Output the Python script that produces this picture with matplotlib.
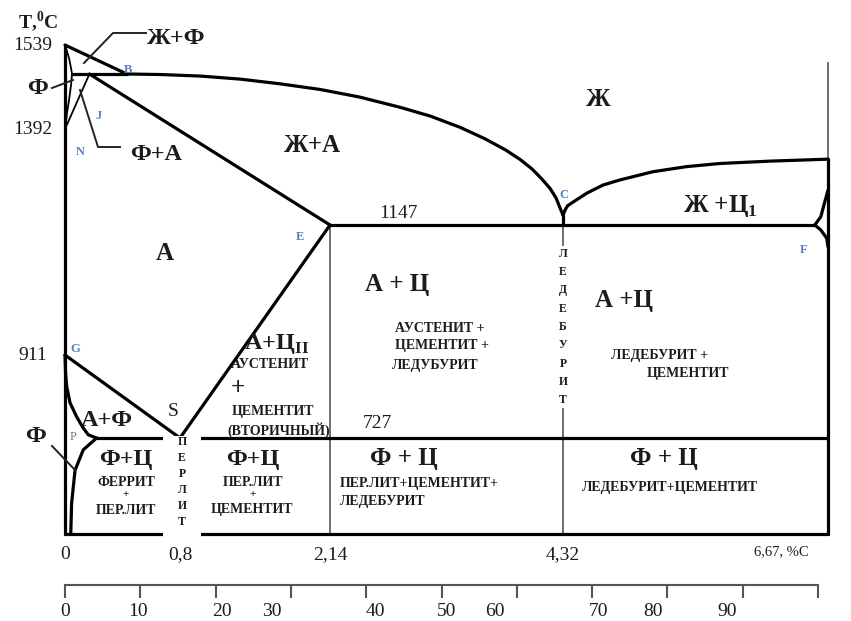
import numpy as np
import matplotlib
matplotlib.use("Agg")
import matplotlib.pyplot as plt
import matplotlib.transforms as mtransforms
from matplotlib.patches import Rectangle

# ------------------------------------------------------------------ data
# key temperatures (deg C)
T_A, T_HJB, T_N, T_ECF, T_G, T_PSK, T_BOTTOM = 1539, 1499, 1392, 1147, 911, 727, 500
T_CUSP = 1172        # cusp of the liquidus at point C
T_D = 1315           # liquidus at 6.67 %C
T_RIGHT_TOP = 1514   # top of the 6.67 %C line
# key carbon contents (% C), as drawn in the schematic
C_H, C_J, C_B, C_P, C_S, C_E, C_C, C_F, C_F_IN = 0.05, 0.17, 0.43, 0.22, 0.8, 2.14, 4.32, 6.67, 6.553

# liquidus B-C
liq_bc_c = [0.43, 0.66, 0.98, 1.34, 1.69, 2.05, 2.42, 2.80, 3.08, 3.36, 3.59, 3.78,
            3.92, 4.03, 4.12, 4.20, 4.255, 4.29, 4.32]
liq_bc_t = [1499, 1498, 1495, 1489, 1480, 1469, 1454, 1434, 1417, 1395, 1367, 1339,
            1314, 1290, 1265, 1240, 1216, 1192, 1172]
# liquidus C-D
liq_cd_c = [4.32, 4.338, 4.36, 4.412, 4.530, 4.675, 4.825, 5.118, 5.417, 5.712, 6.156, 6.67]
liq_cd_t = [1172, 1185, 1196, 1206, 1228, 1249, 1262, 1283, 1296, 1304, 1310, 1315]
# delta-ferrite boundary A-H-N
ahn_c = [0.0, 0.028, 0.042, 0.049, 0.042, 0.028, 0.014, 0.0]
ahn_t = [1539, 1521, 1507, 1499, 1478, 1448, 1423, 1392]
# G-P
gp_c = [0.0, 0.004, 0.012, 0.035, 0.081, 0.125, 0.162, 0.22]
gp_t = [911, 870, 841, 805, 774, 750, 734, 727]
# P-Q
pq_c = [0.22, 0.127, 0.07, 0.046, 0.04]
pq_t = [727, 699, 651, 573, 500]
# cementite boundary near F
f_up_c = [6.67, 6.634, 6.606, 6.553]
f_up_t = [1236, 1198, 1168, 1147]
f_lo_c = [6.553, 6.606, 6.659, 6.67]
f_lo_t = [1147, 1138, 1123, 1107]

# axis labels
comp_ticks = [0, 0.8, 2.14, 4.32]
comp_labels = ["0", "0,8", "2,14", "4,32"]
temp_ticks = [1539, 1392, 911]
temp_labels = ["1539", "1392", "911"]
ruler_ticks = [0, 10, 20, 30, 40, 50, 60, 70, 80, 90, 100]
ruler_label_pos = [0, 9.7, 20.8, 27.5, 41.2, 50.7, 57.1, 70.8, 78.1, 87.9]
ruler_labels = ["0", "10", "20", "30", "40", "50", "60", "70", "80", "90"]

# ------------------------------------------------------- schematic scales
X_C = [-1.0, 0.0, 0.8, 2.14, 4.32, 6.67, 8.0]
X_P = [-78.75, 65, 180, 330, 563, 828, 978]
Y_T = [0, 727, 911, 1147, 1392, 1499, 1539, 1700]
Y_P = [621 - 745.5, 621 - 438, 621 - 355, 621 - 225, 621 - 129, 621 - 74, 621 - 45, 621 + 72]


def fx(c):
    return np.interp(c, X_C, X_P)


def fx_inv(p):
    return np.interp(p, X_P, X_C)


def fy(t):
    return np.interp(t, Y_T, Y_P)


def fy_inv(p):
    return np.interp(p, Y_P, Y_T)


W, H = 851, 621
plt.rcParams["font.family"] = ["Liberation Serif", "DejaVu Serif"]
plt.rcParams["mathtext.fontset"] = "custom"
plt.rcParams["mathtext.rm"] = "Liberation Serif"

fig = plt.figure(figsize=(W / 100, H / 100), dpi=100)
ax = fig.add_axes([0, 0, 1, 1])
ax.set_xscale("function", functions=(fx, fx_inv))
ax.set_yscale("function", functions=(fy, fy_inv))
ax.set_xlim(fx_inv(0), fx_inv(W))
ax.set_ylim(fy_inv(0), fy_inv(H))
ax.axis("off")

tpx = mtransforms.Affine2D().scale(1 / W, -1 / H).translate(0, 1) + fig.transFigure

K = dict(color="black", lw=2.3, solid_capstyle="round", solid_joinstyle="round", zorder=2)
THIN = dict(color="black", lw=1.3, zorder=2)
GRAY = dict(color="#6e6e6e", lw=1.4, zorder=1.5)

ax.plot([0, 0], [T_BOTTOM, T_A], **K)
ax.plot([0, C_B], [T_A, T_HJB], **K)
ax.plot([C_H, C_B], [T_HJB, T_HJB], **K)
ax.plot(liq_bc_c, liq_bc_t, **K)
ax.plot(liq_cd_c, liq_cd_t, **K)
ax.plot([C_J, C_E], [T_HJB, T_ECF], **K)
ax.plot([0, C_J], [T_N, T_HJB], **THIN)
ax.plot(ahn_c, ahn_t, **THIN)
ax.plot([C_E, C_F_IN], [T_ECF, T_ECF], **K)
ax.plot(f_up_c, f_up_t, **K)
ax.plot(f_lo_c, f_lo_t, **K)
ax.plot([C_F, C_F], [T_BOTTOM, T_D], **K)
ax.plot([C_F, C_F], [T_D, T_RIGHT_TOP], **GRAY)
ax.plot([0, C_S], [T_G, T_PSK], **K)
ax.plot(gp_c, gp_t, **K)
ax.plot([C_P, C_F], [T_PSK, T_PSK], **K)
ax.plot([C_S, C_E], [T_PSK, T_ECF], **K)
ax.plot(pq_c, pq_t, **K)
ax.plot([0, C_F], [T_BOTTOM, T_BOTTOM], **K)
ax.plot([C_E, C_E], [T_BOTTOM, T_ECF], **GRAY)
ax.plot([C_C, C_C], [T_BOTTOM, T_ECF], **GRAY)
ax.plot([C_C, C_C], [T_ECF, T_CUSP], **K)

# white gap for the vertical word "ПЕРЛИТ"
ax.add_patch(Rectangle((163, 436), 38, 102, transform=tpx, facecolor="white",
                       edgecolor="none", zorder=3))

TXT = "#1c1c1c"
BLUE = "#5a7dbf"


def lbl(x, y, s, size, bold=True, ha="center", va="center", color=TXT, z=5, **kw):
    return ax.text(x, y, s, transform=tpx, fontsize=size,
                   fontweight="bold" if bold else "normal",
                   ha=ha, va=va, color=color, zorder=z, **kw)


# leader lines
LL = dict(transform=tpx, color="#222222", lw=1.4, zorder=4)
ax.plot([146, 113, 84], [33, 33, 63], **LL)
ax.plot([52, 73], [88, 80], **LL)
ax.plot([80, 98, 120], [90, 147, 147], **LL)
ax.plot([52, 75], [446, 470], **LL)

NUM = 14
# axis-style labels
lbl(38, 22, "Т,$^\\mathregular{0}$С", 14)
for t, s in zip(temp_ticks, temp_labels):
    ax.text(0.039, t, s, transform=ax.get_yaxis_transform(), fontsize=NUM,
            ha="center", va="center", color=TXT)
for c, s in zip(comp_ticks, comp_labels):
    ax.text(c, 0.107, s, transform=ax.get_xaxis_transform(), fontsize=NUM,
            ha="center", va="center", color=TXT)
lbl(781, 552, "6,67, %С", 10.5, bold=False)
ax.annotate("1147", (2.78, T_ECF), xytext=(0, 2.5), textcoords="offset points",
            ha="center", va="bottom", fontsize=NUM, color=TXT)
ax.annotate("727", (2.58, T_PSK), xytext=(0, 4.5), textcoords="offset points",
            ha="center", va="bottom", fontsize=NUM, color=TXT)

# blue point letters
for x, y, s in [(128, 70, "B"), (99, 116, "J"), (80, 152, "N"), (300, 237, "E"),
                (564, 195, "C"), (804, 250, "F"), (75, 349, "G")]:
    lbl(x, y, s, 9, color=BLUE)
lbl(73, 437, "P", 9, bold=False, color="#777777")

# region labels
BIG = 18
MID = 17.5
SM = 10
lbl(598, 100, "Ж", BIG)
lbl(312, 146, "Ж+А", BIG)
lbl(147, 38, "Ж+Ф", MID, ha="left")
lbl(37, 89, "Ф", MID)
lbl(156, 154, "Ф+А", MID)
lbl(165, 254, "А", BIG)
lbl(720, 206, "Ж +Ц$_\\mathregular{1}$", BIG)
lbl(397, 285, "А + Ц", BIG)
lbl(624, 300, "А +Ц", BIG)
lbl(440, 328, "АУСТЕНИТ +", SM)
lbl(442, 346, "ЦЕМЕНТИТ +", SM)
lbl(435, 365, "ЛЕДУБУРИТ", SM)
lbl(660, 355, "ЛЕДЕБУРИТ +", SM)
lbl(688, 373, "ЦЕМЕНТИТ", SM)
lbl(277, 344, "А+Ц$_\\mathregular{II}$", MID)
lbl(270, 364, "АУСТЕНИТ", SM, z=1)
lbl(238, 388, "+", 18)
lbl(273, 412, "ЦЕМЕНТИТ", SM)
lbl(279, 430, "(ВТОРИЧНЫЙ)", SM)
lbl(173, 412, "S", NUM, bold=False)
lbl(107, 420, "А+Ф", MID)
lbl(36, 437, "Ф", MID)
lbl(126, 459, "Ф+Ц", MID)
lbl(126, 483, "ФЕРРИТ", SM)
lbl(126, 495, "+", 8)
lbl(126, 511, "ПЕР.ЛИТ", SM)
lbl(253, 459, "Ф+Ц", MID)
lbl(253, 482, "ПЕР.ЛИТ", SM)
lbl(253, 495, "+", 8)
lbl(252, 510, "ЦЕМЕНТИТ", SM)
lbl(404, 458, "Ф + Ц", BIG)
lbl(340, 483, "ПЕР.ЛИТ+ЦЕМЕНТИТ+", SM, ha="left")
lbl(340, 502, "ЛЕДЕБУРИТ", SM, ha="left")
lbl(664, 458, "Ф + Ц", BIG)
lbl(670, 487, "ЛЕДЕБУРИТ+ЦЕМЕНТИТ", SM)

# vertical words
lbl(182, 482, "П\nЕ\nР\nЛ\nИ\nТ", 8.5, linespacing=1.45)
lbl(563, 327, "Л\nЕ\nД\nЕ\nБ\nУ\nР\nИ\nТ", 8.5, linespacing=1.70,
    bbox=dict(facecolor="white", edgecolor="none", pad=1.5))

# lower ruler (0..100)
axr = fig.add_axes([65 / W, (H - 585) / H, (818 - 65) / W, 0.03])
axr.set_xlim(0, 100)
axr.set_ylim(0, 1)
axr.patch.set_visible(False)
for s in ["top", "left", "right"]:
    axr.spines[s].set_visible(False)
axr.spines["bottom"].set_color("#555555")
axr.spines["bottom"].set_linewidth(1.5)
axr.set_yticks([])
axr.xaxis.remove_overlapping_locs = False
axr.set_xticks(ruler_ticks)
axr.set_xticklabels([])
axr.tick_params(axis="x", which="major", direction="out", length=9, width=1.5, color="#555555")
axr.set_xticks(ruler_label_pos, minor=True)
axr.set_xticklabels(ruler_labels, minor=True, fontsize=NUM, color=TXT)
axr.tick_params(axis="x", which="minor", length=0, pad=13)

fig.savefig("out.png", dpi=100)
